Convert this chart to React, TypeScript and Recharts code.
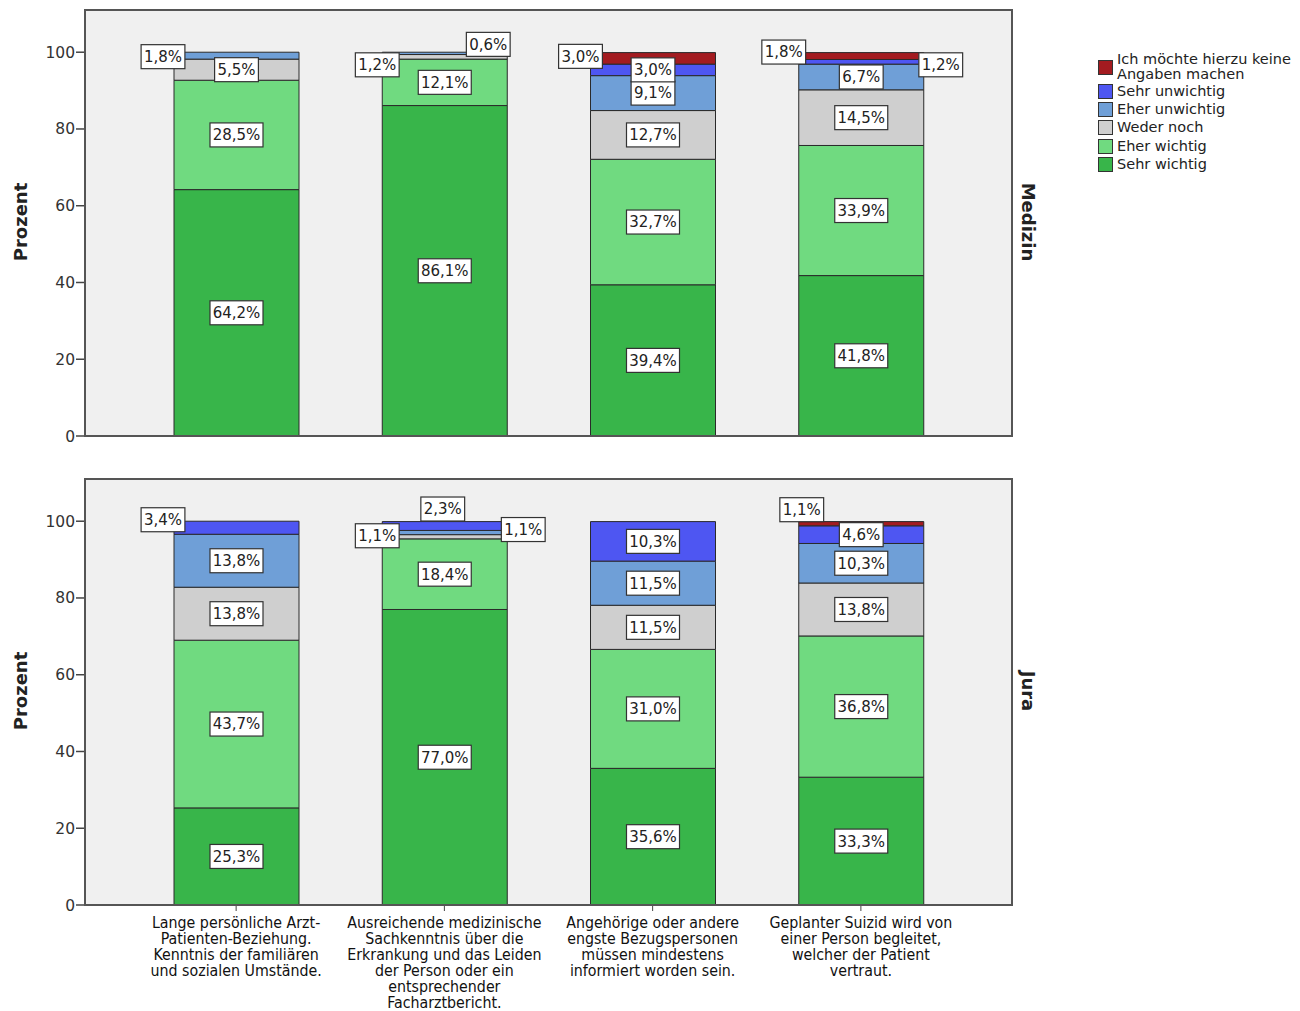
import { BarChart, Bar, XAxis, YAxis, CartesianGrid, LabelList } from "recharts";

// Kategorien (x-Achse), Zeilenumbrüche wie im Original
const categories = [
  "Lange persönliche Arzt-\nPatienten-Beziehung.\nKenntnis der familiären\nund sozialen Umstände.",
  "Ausreichende medizinische\nSachkenntnis über die\nErkrankung und das Leiden\nder Person oder ein\nentsprechender\nFacharztbericht.",
  "Angehörige oder andere\nengste Bezugspersonen\nmüssen mindestens\ninformiert worden sein.",
  "Geplanter Suizid wird von\neiner Person begleitet,\nwelcher der Patient\nvertraut.",
];

const yTicks = [0, 20, 40, 60, 80, 100];

// Medizin
const medSehrWichtig = [64.2, 86.1, 39.4, 41.8];
const medEherWichtig = [28.5, 12.1, 32.7, 33.9];
const medWederNoch = [5.5, 1.2, 12.7, 14.5];
const medEherUnwichtig = [1.8, 0.6, 9.1, 6.7];
const medSehrUnwichtig = [0, 0, 3.0, 1.2];
const medKeineAngabe = [0, 0, 3.0, 1.8];

// Jura
const juraSehrWichtig = [25.3, 77.0, 35.6, 33.3];
const juraEherWichtig = [43.7, 18.4, 31.0, 36.8];
const juraWederNoch = [13.8, 1.1, 11.5, 13.8];
const juraEherUnwichtig = [13.8, 1.1, 11.5, 10.3];
const juraSehrUnwichtig = [3.4, 2.3, 10.3, 4.6];
const juraKeineAngabe = [0, 0, 0, 1.1];

const series = [
  { key: "sw", name: "Sehr wichtig", color: "#38b54a" },
  { key: "ew", name: "Eher wichtig", color: "#70da80" },
  { key: "wn", name: "Weder noch", color: "#cfcfcf" },
  { key: "eu", name: "Eher unwichtig", color: "#6f9fd7" },
  { key: "su", name: "Sehr unwichtig", color: "#4e56f2" },
  { key: "ka", name: "Ich möchte hierzu keine Angaben machen", color: "#a31b20" },
];

const build = (cols: number[][]) =>
  categories.map((name, i) => ({
    name,
    sw: cols[0][i],
    ew: cols[1][i],
    wn: cols[2][i],
    eu: cols[3][i],
    su: cols[4][i],
    ka: cols[5][i],
  }));

const medData = build([medSehrWichtig, medEherWichtig, medWederNoch, medEherUnwichtig, medSehrUnwichtig, medKeineAngabe]);
const juraData = build([juraSehrWichtig, juraEherWichtig, juraWederNoch, juraEherUnwichtig, juraSehrUnwichtig, juraKeineAngabe]);

// Beschriftungen kleiner Segmente außerhalb des Balkens
const outsideLabels: Record<string, { side: "left" | "right" | "top"; dx: number; dy: number }> = {
  "Medizin-0-eu": { side: "left", dx: -1, dy: 1 },
  "Medizin-1-wn": { side: "left", dx: 5, dy: 8 },
  "Medizin-1-eu": { side: "right", dx: -36, dy: -9 },
  "Medizin-2-ka": { side: "left", dx: 0, dy: -2 },
  "Medizin-3-ka": { side: "left", dx: -5, dy: -4 },
  "Medizin-3-su": { side: "right", dx: 0, dy: 3 },
  "Jura-0-su": { side: "left", dx: -1, dy: -8 },
  "Jura-1-wn": { side: "left", dx: 5, dy: -1 },
  "Jura-1-eu": { side: "right", dx: -1, dy: -3 },
  "Jura-1-su": { side: "top", dx: -2, dy: -17 },
  "Jura-3-ka": { side: "left", dx: 13, dy: -14 },
};

const FONT = "'DejaVu Sans', Verdana, sans-serif";
const PLOT_LEFT = 85;
const PAD = 47;
const BAND = (927 - 2 * PAD) / categories.length;
const BAR = 125;

const makeLabel = (panel: string, key: string) => (props: any) => {
  const { x, y, width, height, value } = props;
  if (!value) return null;
  const idx = Math.round((x + width / 2 - PLOT_LEFT - PAD - BAND / 2) / BAND);
  const text = Number(value).toFixed(1).replace(".", ",") + "%";
  const w = text.length * 9.2 + 7;
  const h = 24;
  let cx = x + width / 2;
  let cy = y + height / 2;
  const place = outsideLabels[`${panel}-${idx}-${key}`];
  if (place) {
    if (place.side === "left") cx = x - 10 + place.dx;
    else if (place.side === "right") cx = x + width + 17 + place.dx;
    else cx = x + width / 2 + place.dx;
    cy += place.dy;
  }
  return (
    <g>
      <rect x={cx - w / 2} y={cy - h / 2} width={w} height={h} fill="#fff" stroke="#333" strokeWidth={1.2} />
      <text x={cx} y={cy} dy="0.36em" textAnchor="middle" fontFamily={FONT} fontSize={15} fill="#222">
        {text}
      </text>
    </g>
  );
};

const XTick = (props: any) => {
  const { x, y, payload } = props;
  const lines = String(payload.value).split("\n");
  return (
    <text x={x} y={y} textAnchor="middle" fontFamily="'DejaVu Sans Condensed', 'DejaVu Sans', sans-serif" fontSize={15.8} fill="#111">
      {lines.map((l, i) => (
        <tspan key={i} x={x} dy={i === 0 ? 15 : 15.9}>
          {l}
        </tspan>
      ))}
    </text>
  );
};

function Panel({ title, data, showX }: { title: string; data: any[]; showX: boolean }) {
  return (
    <BarChart
      width={1020}
      height={showX ? 540 : 450}
      data={data}
      margin={showX ? { top: 9, right: 8, left: 0, bottom: 5 } : { top: 10, right: 8, left: 0, bottom: 14 }}
      barSize={BAR}
    >
      <CartesianGrid horizontal={false} vertical={false} fill="#f0f0f0" />
      <XAxis
        dataKey="name"
        hide={!showX}
        padding={{ left: PAD, right: PAD }}
        axisLine={false}
        tickLine={{ stroke: "#444" }}
        tickSize={6}
        tickMargin={2}
        height={100}
        interval={0}
        tick={<XTick />}
      />
      <XAxis xAxisId="lbl" dataKey="name" hide padding={{ left: PAD, right: PAD }} />
      <YAxis
        domain={[0, 111]}
        ticks={yTicks}
        interval={0}
        width={85}
        axisLine={false}
        tickLine={{ stroke: "#444", strokeWidth: 1.5 }}
        tickSize={9}
        tickMargin={1}
        tick={{ fontFamily: FONT, fontSize: 15.5, fill: "#333" }}
      />
      {series.map((s) => (
        <Bar key={s.key} dataKey={s.key} stackId="a" fill={s.color} stroke="#2a2a2a" strokeWidth={1} isAnimationActive={false} />
      ))}
      {series.map((s) => (
        <Bar
          key={"l" + s.key}
          xAxisId="lbl"
          dataKey={s.key}
          stackId="b"
          fill="none"
          stroke="none"
          legendType="none"
          isAnimationActive={false}
        >
          <LabelList dataKey={s.key} content={makeLabel(title, s.key)} />
        </Bar>
      ))}
    </BarChart>
  );
}

const frame = (top: number): React.CSSProperties => ({
  position: "absolute",
  left: 84,
  top,
  width: 929,
  height: 428,
  border: "2px solid #555",
  boxSizing: "border-box",
  pointerEvents: "none",
});

export default function App() {
  return (
    <div style={{ position: "absolute", left: 0, top: 0, width: 1300, height: 1011, background: "#fff", overflow: "hidden" }}>
      <div style={{ position: "absolute", left: 0, top: 0 }}>
        <Panel title="Medizin" data={medData} showX={false} />
      </div>
      <div style={{ position: "absolute", left: 0, top: 470 }}>
        <Panel title="Jura" data={juraData} showX={true} />
      </div>
      <div style={frame(9)} />
      <div style={frame(478)} />
      <svg width={1300} height={1011} style={{ position: "absolute", left: 0, top: 0, pointerEvents: "none" }}>
        <text transform="translate(27,222) rotate(-90)" textAnchor="middle" fontFamily={FONT} fontWeight="bold" fontSize={18} fill="#222">
          Prozent
        </text>
        <text transform="translate(27,691) rotate(-90)" textAnchor="middle" fontFamily={FONT} fontWeight="bold" fontSize={18} fill="#222">
          Prozent
        </text>
        <text transform="translate(1022,222) rotate(90)" textAnchor="middle" fontFamily={FONT} fontWeight="bold" fontSize={18} fill="#222">
          Medizin
        </text>
        <text transform="translate(1022,691) rotate(90)" textAnchor="middle" fontFamily={FONT} fontWeight="bold" fontSize={18} fill="#222">
          Jura
        </text>
      </svg>
      <div style={{ position: "absolute", left: 1098, top: 52, fontFamily: FONT, fontSize: 14.5, color: "#222", lineHeight: "15px" }}>
        {[...series].reverse().map((s, i) => (
          <div key={s.key} style={{ display: "flex", alignItems: "center", height: i === 0 ? 30 : 18.4 }}>
            <div style={{ width: 15, height: 15, background: s.color, border: "1px solid #333", boxSizing: "border-box", marginRight: 4, flexShrink: 0 }} />
            <div style={{ width: 195, whiteSpace: "nowrap" }}>{i === 0 ? <>Ich möchte hierzu keine<br />Angaben machen</> : s.name}</div>
          </div>
        ))}
      </div>
    </div>
  );
}
